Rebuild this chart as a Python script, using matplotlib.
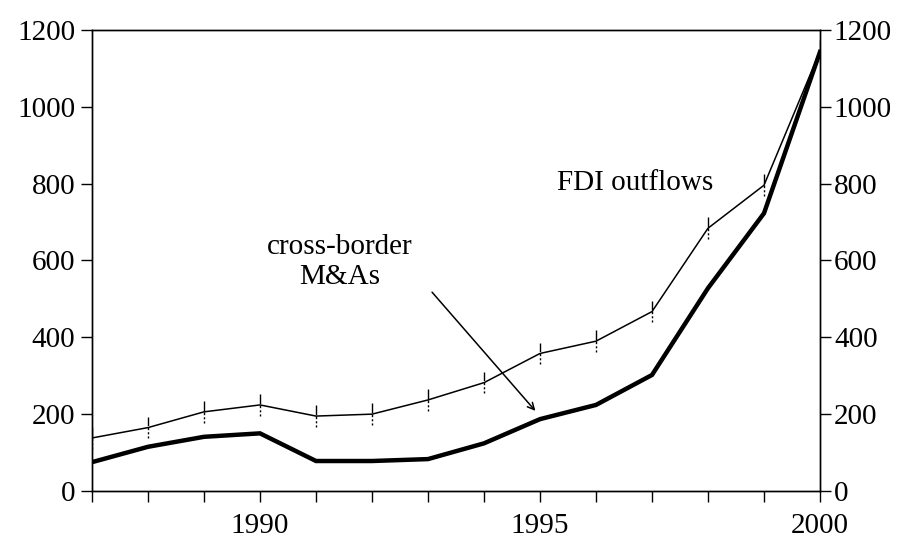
import matplotlib.pyplot as plt

# data
years = list(range(1987, 2001))
fdi_outflows = [138, 165, 206, 224, 195, 200, 237, 282, 358, 390, 467, 684, 796, 1145]
cross_border_ma = [75, 115, 141, 150, 78, 78, 83, 124, 187, 224, 302, 528, 723, 1143]
xtick_labels = {1990: '1990', 1995: '1995', 2000: '2000'}
yticks = [0, 200, 400, 600, 800, 1000, 1200]

plt.rcParams['font.family'] = ['Liberation Serif', 'DejaVu Serif']
plt.rcParams['font.size'] = 21

fig = plt.figure(figsize=(9.01, 5.39), dpi=100)
ax = fig.add_axes([0.1021, 0.0891, 0.808, 0.8552])

# thin line with split vertical markers
ax.plot(years, fdi_outflows, color='black', lw=1.1)
eb = ax.errorbar(years, fdi_outflows, yerr=28, fmt='none', ecolor='black', elinewidth=1.0)
eb[2][0].set_linestyle((0, (1.5, 1.5, 1.5, 1.5, 2, 1, 12, 1)))

# thick line
ax.plot(years, cross_border_ma, color='black', lw=3.2, solid_joinstyle='miter')

ax.set_xlim(1987, 2000)
ax.set_ylim(0, 1200)
ax.set_xticks(years)
ax.set_xticklabels([xtick_labels.get(y, '') for y in years])
ax.set_yticks(yticks)
ax.tick_params(direction='out', length=8, width=1, pad=4)
ax.tick_params(axis='x', pad=8)

ax2 = ax.twinx()
ax2.set_ylim(0, 1200)
ax2.set_yticks(yticks)
ax2.tick_params(direction='out', length=8, width=1, pad=2)

for a in (ax, ax2):
    for s in a.spines.values():
        s.set_linewidth(1)

ax.text(1996.7, 802, 'FDI outflows', ha='center', va='center')
ax.text(1991.43, 597, 'cross-border\nM&As', ha='center', va='center', linespacing=1.2)
ax.annotate('', xy=(1994.95, 203), xytext=(1993.04, 523),
            arrowprops=dict(arrowstyle='->', color='black', lw=1.1,
                            mutation_scale=12))

fig.savefig('out.png', dpi=100)
